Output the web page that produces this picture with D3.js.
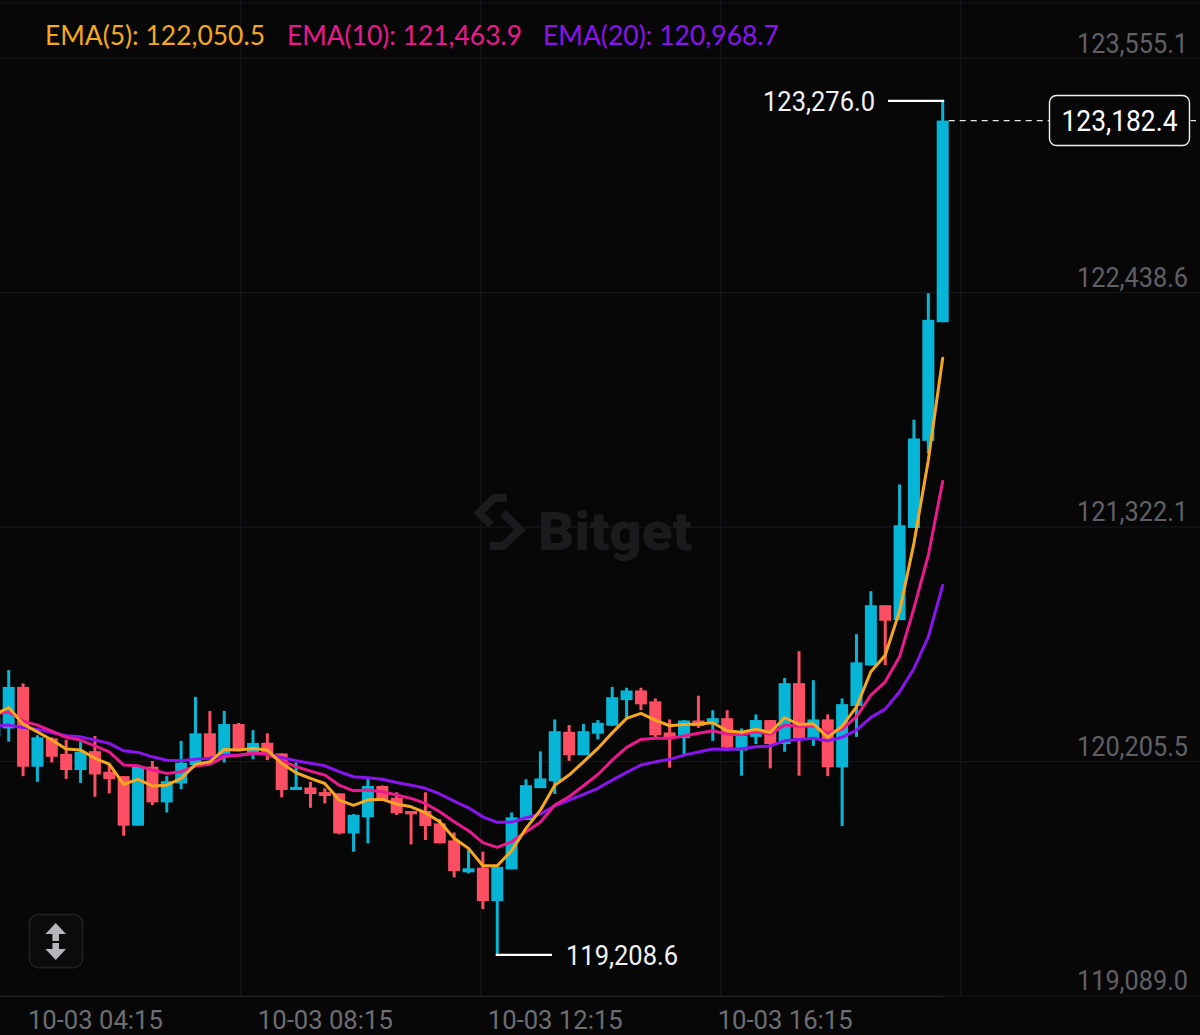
<!DOCTYPE html>
<html>
<head>
<meta charset="utf-8">
<script src="https://d3js.org/d3.v7.min.js"></script>
<style>
  html, body { margin: 0; padding: 0; background: #070708; overflow: hidden; }
  text { font-family: Roboto, sans-serif; }
</style>
</head>
<body>
<div id="chart"></div>
<script>
// candles, 15 min each. first one sits just off the left edge
const opens = [120250,120287,120485,120105,120240,120166,120089,120179,120081,120060,119824,120105,119935,120025,120113,120264,120160,120308,120165,120219,120168,119994,120006,119984,119978,119787,119864,120013,119957,119894,119894,119835,119754,119602,119624,119465,119616,119851,120003,120036,120271,120160,120262,120300,120422,120468,120416,120268,120241,120325,120311,120336,120182,120247,120327,120213,120503,120240,120330,120102,120394,120587,120874,120803,121242,121657,122222];
const closes = [120340,120485,120105,120245,120152,120089,120176,120068,120046,119824,120105,119935,120036,120124,120264,120145,120308,120184,120218,120168,119994,120009,119975,119965,119787,119876,120013,119946,119883,119878,119822,119740,119608,119621,119465,119628,119864,120017,120049,120274,120160,120274,120314,120436,120468,120402,120255,120243,120325,120298,120336,120196,120253,120327,120213,120503,120240,120330,120102,120403,120602,120874,120800,121255,121668,122233,123182.4];
const highs = [120350,120565,120502,120255,120245,120232,120224,120251,120113,120060,120105,120132,120060,120228,120438,120370,120371,120313,120279,120264,120168,120125,120033,120002,119978,119879,120046,120016,119983,119894,119983,119856,119792,119708,119700,119628,119887,120045,120178,120330,120303,120309,120327,120485,120481,120481,120430,120330,120327,120443,120374,120374,120287,120354,120327,120528,120655,120517,120354,120430,120736,120941,120874,121449,121758,122360,123276.0];
const lows = [120230,120224,120060,120033,120125,120047,120028,119962,119978,119776,119824,119922,119887,119998,120113,120145,120125,120184,120140,120136,119959,119994,119909,119930,119783,119700,119740,119946,119875,119735,119756,119740,119578,119597,119427,119208.6,119616,119851,120003,119975,120133,120160,120235,120300,120340,120374,120243,120100,120162,120290,120228,120196,120062,120213,120097,120176,120062,120204,120060,119822,120247,120587,120589,120803,121242,121597,122222];

const ema5 = [120351,120387,120308,120271,120232,120189,120184,120145,120117,120021,120045,120013,120017,120049,120116,120128,120187,120184,120192,120184,120121,120076,120049,120025,119946,119921,119947,119949,119927,119914,119886,119843,119764,119716,119633,119633,119705,119811,119898,120017,120065,120128,120192,120266,120335,120359,120327,120300,120306,120308,120314,120276,120269,120283,120268,120338,120306,120309,120245,120298,120390,120557,120636,120846,121170,121565,122050.5];
const ema10 = [120355,120366,120322,120303,120274,120245,120232,120204,120176,120113,120109,120089,120073,120081,120108,120117,120152,120159,120170,120165,120133,120105,120084,120065,120017,119990,119994,119986,119970,119954,119930,119890,119843,119800,119743,119721,119747,119795,119840,119922,119962,120014,120068,120136,120197,120235,120240,120240,120251,120264,120276,120260,120257,120271,120260,120303,120298,120300,120264,120284,120343,120446,120509,120628,120860,121112,121463.9];
const ema20 = [120298,120303,120292,120283,120268,120252,120247,120232,120216,120181,120173,120152,120136,120133,120141,120145,120159,120160,120167,120164,120149,120133,120121,120109,120081,120057,120052,120045,120030,120017,120002,119975,119941,119909,119866,119840,119841,119862,119879,119919,119946,119973,120002,120041,120078,120113,120128,120140,120160,120175,120189,120187,120190,120200,120204,120228,120235,120240,120228,120245,120279,120340,120379,120462,120573,120723,120968.7];

const priceTicks = [123555.1, 122438.6, 121322.1, 120205.5, 119089.0];
const timeIdx = [7, 23, 39, 55];
const timeLabels = ["10-03 04:15", "10-03 08:15", "10-03 12:15", "10-03 16:15"];
const emaNames = ["EMA(5)", "EMA(10)", "EMA(20)"];

const width = 1200, height = 1035;
const bg = "#070708";
const upColor = "#07b5d6", downColor = "#fd4f63";
const emaColors = ["#f5a81f", "#ea1a8e", "#8a13ee"];
const gridColor = "#161618";
const fmt = d3.format(",.1f");

const svg = d3.select("#chart").append("svg")
  .attr("width", width)
  .attr("height", height)
  .style("display", "block")
  .style("background", bg);

const x = d3.scaleLinear().domain([0, 66]).range([-5.67, 942.7]);
const y = d3.scaleLinear().domain([119089.0, 123555.1]).range([980, 42.3]);

// grid. the horizontal lines sit under their price label, not on the price
const gridY = 16;
svg.append("g").selectAll("line")
  .data(priceTicks)
  .enter().append("line")
  .attr("x1", 0).attr("x2", width)
  .attr("y1", d => y(d) + gridY).attr("y2", d => y(d) + gridY)
  .attr("stroke", gridColor).attr("stroke-width", 1.2);

svg.append("g").selectAll("line")
  .data([1, 2, 3, 4])
  .enter().append("line")
  .attr("x1", d => d * width / 5 + 0.8).attr("x2", d => d * width / 5 + 0.8)
  .attr("y1", 0).attr("y2", y(119089.0) + gridY)
  .attr("stroke", gridColor).attr("stroke-width", 1.2);

svg.append("line")
  .attr("x1", 0).attr("x2", width).attr("y1", 3).attr("y2", 3)
  .attr("stroke", gridColor).attr("stroke-width", 1);

// watermark
const logo = svg.append("g");
logo.selectAll("path")
  .data(["M507,498 L494,498 L479,513 L491,525", "M503,513 L520,530 L503,546 L490,546"])
  .enter().append("path")
  .attr("d", d => d)
  .attr("fill", "none")
  .attr("stroke", "#1b1b1d")
  .attr("stroke-width", 8);
logo.append("text")
  .attr("x", 538).attr("y", 550)
  .attr("fill", "#1b1b1d")
  .attr("textLength", 154)
  .attr("lengthAdjust", "spacingAndGlyphs")
  .style("font-size", "53px")
  .style("font-weight", 900)
  .text("Bitget");

// candles
const rows = d3.range(opens.length).map(i => ({
  i: i, o: opens[i], c: closes[i], h: highs[i], l: lows[i]
}));
const candleColor = d => d.c >= d.o ? upColor : downColor;
const bodyW = 12;

const candles = svg.append("g");
candles.selectAll(".wick")
  .data(rows)
  .enter().append("line")
  .attr("class", "wick")
  .attr("x1", d => x(d.i)).attr("x2", d => x(d.i))
  .attr("y1", d => y(d.h)).attr("y2", d => y(d.l))
  .attr("stroke", candleColor)
  .attr("stroke-width", 3);

candles.selectAll(".body")
  .data(rows)
  .enter().append("rect")
  .attr("class", "body")
  .attr("x", d => x(d.i) - bodyW / 2)
  .attr("width", bodyW)
  .attr("y", d => y(Math.max(d.o, d.c)))
  .attr("height", d => Math.max(2, Math.abs(y(d.o) - y(d.c))))
  .attr("fill", candleColor);

// ema lines
const line = d3.line()
  .x((d, i) => x(i))
  .y(d => y(d));

svg.append("g").selectAll("path")
  .data([ema20, ema10, ema5])
  .enter().append("path")
  .attr("d", d => line(d))
  .attr("fill", "none")
  .attr("stroke", (d, i) => emaColors[2 - i])
  .attr("stroke-width", 3)
  .attr("stroke-linejoin", "round")
  .attr("stroke-linecap", "round");

// price axis, right side
const yAxis = svg.append("g")
  .attr("transform", "translate(1188,0)")
  .call(d3.axisLeft(y).tickValues(priceTicks).tickSize(0).tickFormat(fmt));
yAxis.select(".domain").remove();
yAxis.selectAll("text")
  .attr("x", 0)
  .attr("dy", "0.35em")
  .attr("fill", "#606064")
  .attr("textLength", 111)
  .attr("lengthAdjust", "spacingAndGlyphs")
  .style("font-family", "Roboto, sans-serif")
  .style("font-size", "28px");

// time axis
const xAxis = svg.append("g")
  .attr("transform", "translate(0,996)")
  .call(d3.axisBottom(x).tickValues(timeIdx).tickSize(0).tickFormat((d, i) => timeLabels[i]));
xAxis.select(".domain").attr("stroke", "#232325");
xAxis.selectAll("text")
  .attr("y", 0)
  .attr("dy", "33")
  .attr("fill", "#6d6e71")
  .attr("textLength", 135)
  .attr("lengthAdjust", "spacingAndGlyphs")
  .style("font-family", "Roboto, sans-serif")
  .style("font-size", "26px");

// legend
const last = a => a[a.length - 1];
const legendX = [45, 287, 543];
const legendW = [220, 235, 236];
svg.append("g").selectAll("text")
  .data([ema5, ema10, ema20])
  .enter().append("text")
  .attr("x", (d, i) => legendX[i])
  .attr("y", 45)
  .attr("fill", (d, i) => emaColors[i])
  .attr("textLength", (d, i) => legendW[i])
  .attr("lengthAdjust", "spacingAndGlyphs")
  .style("font-size", "26px")
  .style("font-family", "Lato, sans-serif")
  .text((d, i) => emaNames[i] + ": " + fmt(last(d)));

// high and low markers
const topIdx = d3.maxIndex(highs);
const lowIdx = d3.minIndex(lows);

svg.append("line")
  .attr("x1", 888).attr("x2", x(topIdx) + 1.5)
  .attr("y1", y(highs[topIdx])).attr("y2", y(highs[topIdx]))
  .attr("stroke", "#fff").attr("stroke-width", 2.4);
svg.append("text")
  .attr("x", 875).attr("y", y(highs[topIdx]))
  .attr("dy", "0.35em")
  .attr("text-anchor", "end")
  .attr("fill", "#f2f2f2")
  .attr("textLength", 112)
  .attr("lengthAdjust", "spacingAndGlyphs")
  .style("font-size", "28px")
  .text(fmt(highs[topIdx]));

svg.append("line")
  .attr("x1", x(lowIdx) - 1.5).attr("x2", 552)
  .attr("y1", y(lows[lowIdx])).attr("y2", y(lows[lowIdx]))
  .attr("stroke", "#fff").attr("stroke-width", 2.4);
svg.append("text")
  .attr("x", 566).attr("y", y(lows[lowIdx]))
  .attr("dy", "0.35em")
  .attr("fill", "#f2f2f2")
  .attr("textLength", 112)
  .attr("lengthAdjust", "spacingAndGlyphs")
  .style("font-size", "28px")
  .text(fmt(lows[lowIdx]));

// last price tag with dashed line
const lastPrice = last(closes);
svg.append("line")
  .attr("x1", x(last(rows).i) + 6).attr("x2", 1196)
  .attr("y1", y(lastPrice)).attr("y2", y(lastPrice))
  .attr("stroke", "#e8e8e8").attr("stroke-width", 1.2)
  .attr("stroke-dasharray", "6,5");
svg.append("rect")
  .attr("x", 1049.5).attr("y", y(lastPrice) - 25)
  .attr("width", 140).attr("height", 50)
  .attr("rx", 7)
  .attr("fill", bg)
  .attr("stroke", "#f0f0f0").attr("stroke-width", 1.4);
svg.append("text")
  .attr("x", 1119.5).attr("y", y(lastPrice))
  .attr("dy", "0.35em")
  .attr("text-anchor", "middle")
  .attr("fill", "#fff")
  .attr("textLength", 116)
  .attr("lengthAdjust", "spacingAndGlyphs")
  .style("font-size", "29px")
  .text(fmt(lastPrice));

// scale button
const btn = svg.append("g");
btn.append("rect")
  .attr("x", 29.5).attr("y", 914.5)
  .attr("width", 53).attr("height", 53)
  .attr("rx", 9)
  .attr("fill", "#0b0b0c")
  .attr("stroke", "#1d1d1f").attr("stroke-width", 2);
btn.append("path")
  .attr("d", "M55.7,923 L66,934 L59,934 L59,941 L52.4,941 L52.4,934 L45.4,934 Z M52.4,943 L59,943 L59,949 L66,949 L55.7,960 L45.4,949 L52.4,949 Z")
  .attr("fill", "#b4b6ba");
</script>
</body>
</html>
